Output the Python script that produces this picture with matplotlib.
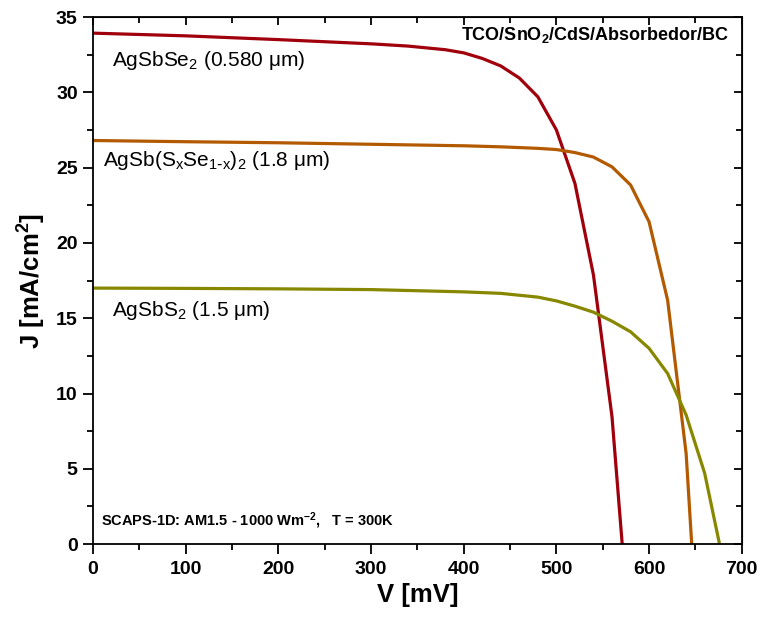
import matplotlib
matplotlib.use("Agg")
import matplotlib.pyplot as plt
from matplotlib.ticker import MultipleLocator

plt.rcParams['font.family'] = ['Liberation Sans', 'DejaVu Sans']
plt.rcParams['mathtext.default'] = 'regular'

# J-V curves (V in mV, J in mA/cm2)
v_se = [0, 100, 200, 300, 340, 380, 400, 420, 440, 460, 480, 500, 520, 540, 560, 571]
j_se = [33.93, 33.75, 33.5, 33.22, 33.07, 32.83, 32.62, 32.25, 31.75, 30.95, 29.7,
        27.5, 23.95, 17.86, 8.45, 0.0]

v_sse = [0, 100, 200, 300, 400, 440, 480, 500, 520, 540, 560, 580, 600, 620, 640, 646]
j_sse = [26.8, 26.72, 26.65, 26.55, 26.45, 26.38, 26.28, 26.2, 26.0, 25.7, 25.05,
         23.85, 21.4, 16.2, 6.0, 0.0]

v_s = [0, 100, 200, 300, 400, 440, 480, 500, 520, 540, 560, 580, 600, 620, 640, 660, 676]
j_s = [17.0, 16.98, 16.95, 16.9, 16.75, 16.65, 16.4, 16.15, 15.8, 15.4, 14.8, 14.1,
       13.0, 11.33, 8.57, 4.7, 0.0]

labels = [r'AgSbSe$_2$ (0.580 μm)',
          r'AgSb(S$_x$Se$_{1\text{-}x}$)$_2$ (1.8 μm)',
          r'AgSbS$_2$ (1.5 μm)']
colors = ['#a0000c', '#b35a00', '#878700']
label_pos = [(20, 32.1), (11, 25.5), (21, 15.5)]

fig = plt.figure(figsize=(7.6, 6.19), dpi=100)
ax = fig.add_axes([0.1224, 0.121, 0.8536, 0.8515])

for v, j, c in zip([v_se, v_sse, v_s], [j_se, j_sse, j_s], colors):
    ax.plot(v, j, color=c, lw=2.3, solid_joinstyle='miter')

for (x, y), t in zip(label_pos, labels):
    ax.text(x, y, t, fontsize=15, va='center', ha='left')

ax.text(0.98, 0.985, r'TCO/SnO$_2$/CdS/Absorbedor/BC', transform=ax.transAxes,
        ha='right', va='top', fontsize=13, fontweight='bold')
ax.text(0.012, 0.045, r'SCAPS-1D: AM1.5 - 1000 Wm$^{-2}$,   T = 300K',
        transform=ax.transAxes, ha='left', va='center', fontsize=10.5,
        fontweight='bold')

ax.set_xlim(0, 700)
ax.set_ylim(0, 35)
ax.xaxis.set_major_locator(MultipleLocator(100))
ax.xaxis.set_minor_locator(MultipleLocator(50))
ax.yaxis.set_major_locator(MultipleLocator(5))
ax.yaxis.set_minor_locator(MultipleLocator(2.5))

ax.tick_params(which='both', direction='out', width=1.3, labelsize=14)
ax.tick_params(which='major', length=7)
ax.tick_params(which='minor', length=4)
ax.tick_params(axis='x', which='major', pad=5)
ax.tick_params(axis='y', which='major', pad=4)
for lab in ax.get_xticklabels() + ax.get_yticklabels():
    lab.set_fontweight('bold')
for s in ax.spines.values():
    s.set_linewidth(1.3)

# inward ticks on top and right
axt = ax.secondary_xaxis('top')
axt.xaxis.set_major_locator(MultipleLocator(100))
axt.xaxis.set_minor_locator(MultipleLocator(50))
axt.tick_params(which='both', direction='in', labeltop=False, width=1.3)
axt.tick_params(which='major', length=6)
axt.tick_params(which='minor', length=4)
axr = ax.secondary_yaxis('right')
axr.yaxis.set_major_locator(MultipleLocator(5))
axr.yaxis.set_minor_locator(MultipleLocator(2.5))
axr.tick_params(which='both', direction='in', labelright=False, width=1.3)
axr.tick_params(which='major', length=6)
axr.tick_params(which='minor', length=4)

ax.set_xlabel('V [mV]', fontsize=18.5, fontweight='bold', labelpad=4)
ax.set_ylabel(r'J [mA/cm$^2$]', fontsize=18.5, fontweight='bold', labelpad=6)

fig.savefig('out.png', dpi=100)
